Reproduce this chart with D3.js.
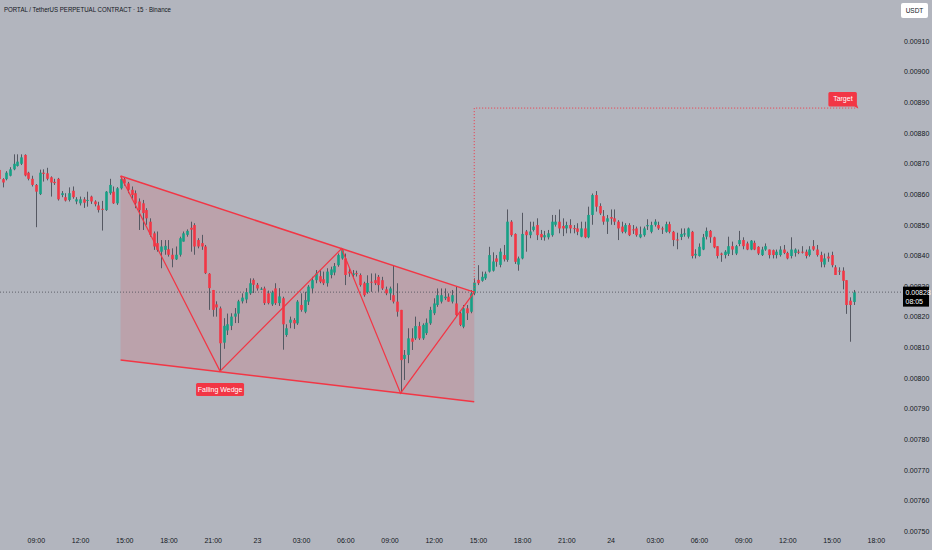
<!DOCTYPE html>
<html>
<head>
<meta charset="utf-8">
<script src="https://cdn.jsdelivr.net/npm/d3@7"></script>
<style>
  html, body { margin: 0; padding: 0; background: #b2b5be; }
  svg { display: block; font-family: 'Liberation Sans Narrow', 'Arial Narrow', 'Liberation Sans', sans-serif; }
</style>
</head>
<body>
<svg id="chart" width="932" height="550"></svg>
<script>
// prices are in units of 0.00001 USDT, one candle every 15 minutes (06:30 day 22 -> 16:30 day 24)
const opens = [
  867.9,864.9,864.9,866.0,868.1,869.2,869.9,872.8,867.0,865.0,863.0,860.0,867.0,866.8,865.5,864.0,865.0,859.7,859.0,858.1,
  861.1,857.6,857.0,858.3,857.8,859.2,857.6,856.3,855.2,854.8,860.3,860.8,857.0,861.9,864.9,863.5,861.4,860.3,857.6,857.0,
  854.8,851.0,847.2,844.0,841.2,841.8,842.0,840.2,838.7,840.2,844.5,846.7,849.0,849.9,845.0,844.0,842.9,834.0,828.7,824.0,
  822.7,811.5,815.5,817.0,820.0,821.0,825.0,825.6,827.6,832.0,830.4,829.0,829.2,827.6,824.0,829.2,824.4,826.0,814.0,818.0,
  818.9,817.8,823.8,821.6,824.9,829.2,831.9,833.2,832.2,830.9,833.6,834.4,836.8,839.0,839.0,834.7,833.6,834.2,833.6,830.9,
  828.0,831.4,831.9,833.0,831.9,828.9,827.6,827.0,824.9,822.2,806.2,807.5,812.9,812.9,816.9,812.9,814.6,817.8,821.1,823.8,
  824.9,826.0,826.5,824.9,824.3,821.1,816.7,822.7,821.6,827.6,832.0,831.7,832.5,834.7,835.0,839.0,836.9,840.1,838.5,851.0,
  847.0,837.0,839.0,847.8,846.6,848.3,849.9,847.0,845.9,845.9,846.6,850.0,851.0,849.6,848.8,849.9,848.9,848.8,846.1,848.8,
  845.9,853.2,859.7,856.1,852.8,851.0,852.5,852.1,851.0,849.4,847.7,849.9,848.5,848.8,845.9,846.6,849.5,847.7,850.0,849.9,
  848.8,847.7,850.2,847.7,845.2,846.0,846.8,846.1,847.7,840.0,839.8,841.9,846.1,848.0,845.9,843.0,840.6,840.1,840.5,843.0,
  840.6,843.7,845.0,843.9,841.9,844.1,842.8,840.1,841.9,841.9,841.7,840.1,840.1,841.9,840.8,839.8,840.8,841.2,841.2,841.2,
  840.1,843.0,841.9,840.1,837.0,839.6,840.1,836.1,835.0,835.0,831.9,825.2,824.8
];
const highs = [
  868.5,865.2,867.5,868.8,873.0,873.0,873.0,873.0,867.3,866.0,863.3,868.0,868.1,868.6,865.8,865.0,865.3,861.0,860.3,862.2,
  862.5,859.0,859.2,859.0,860.8,859.5,858.0,857.5,857.8,861.0,865.0,862.5,862.3,865.9,865.5,864.0,862.5,861.2,858.6,858.1,
  855.4,852.1,847.8,847.8,845.0,845.0,845.0,842.3,842.9,846.1,847.8,848.5,851.0,850.5,845.6,846.7,843.4,834.2,828.7,825.0,
  823.3,819.5,821.0,821.1,822.8,825.5,827.6,829.3,832.5,832.5,831.0,829.6,829.8,828.5,828.5,830.9,829.3,826.5,817.5,820.0,
  819.5,825.4,827.6,828.1,830.3,833.0,835.2,835.2,834.7,835.8,836.3,837.5,840.6,842.2,840.6,835.8,835.2,835.0,834.1,831.4,
  833.5,834.1,834.1,833.6,833.0,829.8,829.8,836.8,830.9,822.2,809.1,816.2,816.2,820.0,818.3,817.8,819.4,823.2,826.0,829.2,
  829.2,829.2,827.6,828.7,829.8,821.6,823.8,823.8,828.7,832.5,836.8,834.7,834.7,842.8,841.0,840.1,842.3,843.4,855.0,851.5,
  847.2,839.6,853.9,848.3,851.0,851.0,852.1,848.3,848.0,848.3,853.2,853.2,855.0,852.1,851.0,851.8,849.9,850.5,851.0,851.0,
  855.9,860.2,861.0,857.0,854.8,853.2,855.0,855.0,851.5,851.0,850.5,850.5,849.9,849.4,849.4,849.4,851.8,851.0,851.8,851.0,
  849.4,851.0,851.0,848.0,847.4,848.8,848.8,849.1,848.0,842.0,843.9,847.0,849.1,848.3,846.1,843.0,840.9,841.7,846.1,844.5,
  843.4,848.0,845.9,844.5,845.0,844.8,843.0,842.8,843.9,841.9,841.9,841.9,843.0,843.4,841.2,845.9,842.3,841.9,843.0,841.9,
  843.0,845.0,843.4,841.2,840.6,840.9,841.2,836.8,836.1,836.1,831.9,826.3,828.7
];
const lows = [
  864.5,862.2,864.5,865.8,867.8,869.0,869.5,865.8,864.5,862.5,849.2,859.7,864.1,864.5,859.2,863.0,857.9,859.0,857.6,857.6,
  858.5,856.7,856.3,855.5,855.9,856.8,856.0,854.0,848.1,854.5,859.8,856.8,856.5,861.5,862.8,860.3,858.5,855.4,848.3,848.3,
  850.0,846.1,841.8,841.2,835.8,840.2,839.6,836.1,838.5,839.6,844.5,846.1,841.2,840.2,842.3,841.8,833.9,822.2,820.0,820.0,
  802.2,809.5,814.0,815.6,817.9,817.9,824.3,824.4,827.1,827.7,828.5,828.7,823.8,824.0,823.5,823.8,823.5,809.2,813.4,816.2,
  816.0,817.3,821.6,821.1,823.8,827.6,830.9,830.9,830.3,829.8,832.5,833.5,836.3,838.6,830.3,833.0,832.5,833.1,829.8,826.5,
  827.5,828.1,830.3,828.1,828.7,827.0,825.4,824.3,820.0,795.0,799.3,804.8,809.1,812.4,812.4,812.4,814.0,817.3,820.5,823.2,
  824.3,825.4,824.9,824.3,820.0,816.9,816.2,818.9,821.1,827.0,830.3,831.4,832.0,834.4,834.7,836.3,836.1,838.0,837.9,846.1,
  837.2,835.0,838.7,841.2,845.6,847.8,845.0,845.0,844.8,845.2,846.1,849.4,847.2,846.3,847.2,847.2,847.2,846.6,845.9,845.6,
  845.6,850.0,854.3,853.2,850.0,847.0,850.0,849.9,845.0,847.2,847.2,846.3,847.0,846.1,845.6,846.1,848.3,847.2,849.4,848.3,
  847.0,847.4,847.2,843.0,842.0,845.0,846.1,845.5,839.0,839.0,839.6,841.7,845.2,844.1,842.3,839.0,837.9,839.0,839.8,840.1,
  840.1,843.0,842.0,841.7,841.7,841.7,840.1,839.8,841.5,839.0,839.0,839.0,839.6,840.4,838.7,839.0,839.6,840.4,840.6,839.0,
  839.6,841.5,839.6,836.1,836.1,837.9,836.1,833.6,833.6,828.9,820.9,811.8,823.8
];
const closes = [
  864.9,863.8,867.0,868.1,869.9,870.6,872.0,866.1,865.0,863.0,860.8,867.0,866.6,865.0,863.8,863.6,858.3,860.3,857.9,860.3,
  859.0,858.3,858.3,857.2,858.1,857.6,856.7,854.8,854.9,860.8,863.0,857.0,861.9,864.9,863.5,861.4,859.7,857.0,854.8,853.8,
  852.1,846.7,842.9,841.8,842.9,843.1,840.2,838.7,840.2,845.6,847.2,848.0,848.4,842.9,842.9,842.9,834.2,829.3,822.2,823.0,
  811.3,817.0,817.5,820.0,821.0,825.0,826.2,828.0,830.9,830.4,829.2,829.1,824.4,824.4,827.9,824.4,826.6,817.5,816.2,819.0,
  817.8,824.9,822.2,825.4,829.8,831.9,834.1,831.4,830.9,834.7,835.4,836.5,840.1,841.7,833.6,834.1,834.1,834.0,830.3,827.0,
  831.0,831.2,830.9,830.3,829.2,827.6,829.2,824.9,821.6,805.8,807.5,812.9,811.8,816.9,812.9,817.3,818.0,822.2,824.3,827.0,
  827.0,826.5,824.9,827.0,820.5,817.3,822.7,821.1,827.6,831.1,830.9,833.0,834.0,840.1,838.0,837.9,841.2,838.7,851.0,846.6,
  837.9,839.0,847.0,846.6,847.8,849.4,846.6,845.9,846.6,847.2,851.0,851.0,848.8,848.8,849.9,848.8,848.7,847.7,848.8,845.9,
  853.2,859.7,855.9,853.7,851.0,852.1,852.0,851.0,848.8,847.7,849.9,846.6,848.3,846.6,846.9,848.8,849.9,849.9,851.0,848.8,
  848.6,850.2,847.7,845.0,845.0,847.0,847.2,848.8,839.8,840.5,842.8,845.9,848.0,845.9,842.6,839.8,840.2,841.2,843.0,841.9,
  843.0,845.0,843.0,841.9,844.8,841.9,840.6,841.9,843.0,840.1,840.1,841.2,841.9,840.8,839.0,841.9,841.9,841.0,841.1,839.8,
  841.9,841.9,840.1,837.9,839.0,839.0,836.8,833.6,834.7,831.7,823.8,823.8,827.9
];

const priceTicks = [750,760,770,780,790,800,810,820,830,840,850,860,870,880,890,900,910];
const priceTickLabels = ["0.00750","0.00760","0.00770","0.00780","0.00790","0.00800","0.00810","0.00820",
  "0.00830","0.00840","0.00850","0.00860","0.00870","0.00880","0.00890","0.00900","0.00910"];
const timeTicks = [10,22,34,46,58,70,82,94,106,118,130,142,154,166,178,190,202,214,226,238];
const timeTickLabels = ["09:00","12:00","15:00","18:00","21:00","23","03:00","06:00","09:00","12:00",
  "15:00","18:00","21:00","24","03:00","06:00","09:00","12:00","15:00","18:00"];

const lastPrice = 828.0;
const lastPriceLabel = "0.00828";
const countdownLabel = "08:05";
// [candle index, price]
const wedgeUpper = [[33, 865.9], [129, 828.0]];
const wedgeLower = [[33, 805.8], [129, 792.2]];
const zigzag = [[33, 865.9], [60, 802.2], [93, 842.2], [109, 795.0], [129, 828.0]];
const targetPath = [[129, 828.0], [129, 888.1], [233, 888.1]];
const wedgeLabelPos = [60, 796.2];

const W = 932, H = 550;
const RED = "#f23645", GREEN = "#16a085", WICK = "#555862";

const svg = d3.select("#chart");
svg.append("rect").attr("width", W).attr("height", H).attr("fill", "#b2b5be");

const x = d3.scaleLinear().domain([0, 232]).range([-1, 853.7]);
const y = d3.scaleLinear().domain([750, 910]).range([531, 41]);
const line = d3.line().x(d => x(d[0])).y(d => y(d[1]));

// title
svg.append("text")
  .attr("x", 4).attr("y", 12)
  .attr("font-size", 7.4).attr("fill", "#131722")
  .attr("textLength", 167).attr("lengthAdjust", "spacingAndGlyphs")
  .text("PORTAL / TetherUS PERPETUAL CONTRACT · 15 · Binance");

// wedge area
svg.append("path")
  .attr("d", line([wedgeUpper[0], wedgeUpper[1], wedgeLower[1], wedgeLower[0]]) + "Z")
  .attr("fill", RED).attr("fill-opacity", 0.15);

// last price line
svg.append("line")
  .attr("x1", 0).attr("x2", 903)
  .attr("y1", y(lastPrice)).attr("y2", y(lastPrice))
  .attr("stroke", "#4a4d57").attr("stroke-width", 0.8).attr("stroke-dasharray", "1,2");

// candles
const candles = d3.range(closes.length).map(i => ({ i, o: opens[i], h: highs[i], l: lows[i], c: closes[i] }));
const g = svg.append("g");
g.selectAll("line.wick").data(candles).join("line")
  .attr("class", "wick")
  .attr("x1", d => Math.round(x(d.i)) + 0.5).attr("x2", d => Math.round(x(d.i)) + 0.5)
  .attr("y1", d => y(d.h)).attr("y2", d => y(d.l))
  .attr("stroke", WICK).attr("stroke-width", 1);
g.selectAll("rect.body").data(candles).join("rect")
  .attr("class", "body")
  .attr("x", d => Math.round(x(d.i)) - 0.8)
  .attr("width", 2.6)
  .attr("y", d => y(Math.max(d.o, d.c)))
  .attr("height", d => Math.max(1, Math.abs(y(d.o) - y(d.c))))
  .attr("fill", d => d.c >= d.o ? GREEN : RED);

// wedge lines + zigzag
svg.append("path").attr("d", line(wedgeUpper)).attr("stroke", RED).attr("stroke-width", 1.5).attr("fill", "none");
svg.append("path").attr("d", line(wedgeLower)).attr("stroke", RED).attr("stroke-width", 1.5).attr("fill", "none");
svg.append("path").attr("d", line(zigzag)).attr("stroke", RED).attr("stroke-width", 1.2).attr("fill", "none");

// target projection
svg.append("path").attr("d", line(targetPath))
  .attr("stroke", RED).attr("stroke-width", 1).attr("fill", "none").attr("stroke-dasharray", "1,2");

// target label
const tx = x(targetPath[2][0]), ty = y(targetPath[2][1]);
svg.append("path")
  .attr("d", `M${tx - 29},${ty - 16} h27 a1.5,1.5 0 0 1 1.5,1.5 v11 l1.5,4 l-4,-2 h-24.5 a1.5,1.5 0 0 1 -1.5,-1.5 v-11.5 a1.5,1.5 0 0 1 1.5,-1.5z`)
  .attr("fill", RED);
svg.append("text")
  .attr("x", tx - 14.5).attr("y", ty - 9.5).attr("dy", "0.35em")
  .attr("text-anchor", "middle").attr("font-size", 7).attr("fill", "#fff")
  .text("Target");

// falling wedge label
const lx = x(wedgeLabelPos[0]), ly = y(wedgeLabelPos[1]);
svg.append("rect")
  .attr("x", lx - 24).attr("y", ly - 6.5).attr("width", 48).attr("height", 13).attr("rx", 1.5)
  .attr("fill", RED);
svg.append("text")
  .attr("x", lx).attr("y", ly).attr("dy", "0.35em")
  .attr("text-anchor", "middle").attr("font-size", 7).attr("fill", "#fff")
  .text("Falling Wedge");

// right price axis
const yAxis = svg.append("g").attr("transform", "translate(904,0)")
  .call(d3.axisRight(y).tickValues(priceTicks).tickFormat((d, i) => priceTickLabels[i]).tickSize(0).tickPadding(0));
yAxis.select(".domain").remove();
yAxis.selectAll("text").attr("font-size", 7).attr("fill", "#131722").attr("font-family", null);

// bottom time axis
const xAxis = svg.append("g").attr("transform", "translate(0,541)")
  .call(d3.axisBottom(x).tickValues(timeTicks).tickFormat((d, i) => timeTickLabels[i]).tickSize(0).tickPadding(0));
xAxis.select(".domain").remove();
xAxis.selectAll("text").attr("y", 0).attr("dy", "0.35em").attr("font-size", 7).attr("fill", "#131722").attr("font-family", null);

// last price badge (covers the lower part of the 0.00830 tick, as in the original)
const py = y(lastPrice);
svg.append("rect").attr("x", 903).attr("y", py - 5.5).attr("width", 26).attr("height", 20).attr("fill", "#000");
svg.append("text").attr("x", 905.5).attr("y", py).attr("dy", "0.35em")
  .attr("font-size", 7).attr("fill", "#fff").text(lastPriceLabel);
svg.append("text").attr("x", 905.5).attr("y", py + 9).attr("dy", "0.35em")
  .attr("font-size", 7).attr("fill", "#fff").text(countdownLabel);

// currency button
svg.append("rect").attr("x", 901).attr("y", 3).attr("width", 27).attr("height", 15).attr("rx", 2)
  .attr("fill", "#fff");
svg.append("text").attr("x", 914.5).attr("y", 10.5).attr("dy", "0.35em")
  .attr("text-anchor", "middle").attr("font-size", 6.5).attr("fill", "#131722").text("USDT");
</script>
</body>
</html>
